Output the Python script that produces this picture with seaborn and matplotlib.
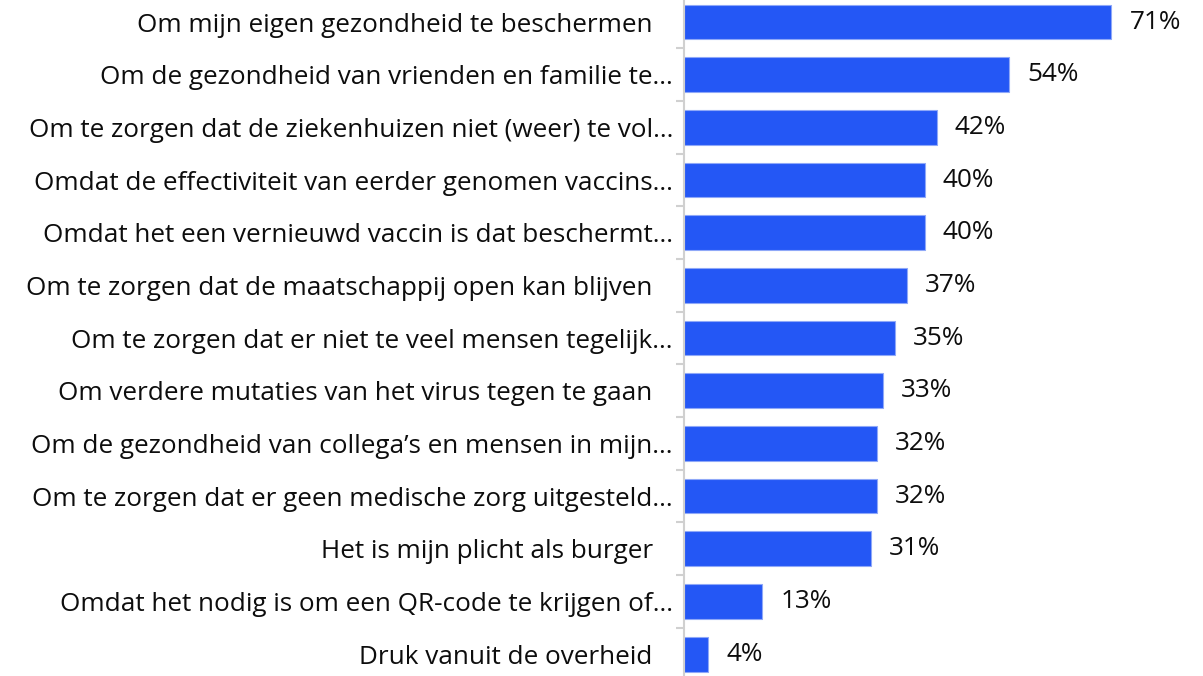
import matplotlib
matplotlib.use("Agg")
import matplotlib.pyplot as plt
import seaborn as sns
import pandas as pd

reasons = [
    "Om mijn eigen gezondheid te beschermen",
    "Om de gezondheid van vrienden en familie te…",
    "Om te zorgen dat de ziekenhuizen niet (weer) te vol…",
    "Omdat de effectiviteit van eerder genomen vaccins…",
    "Omdat het een vernieuwd vaccin is dat beschermt…",
    "Om te zorgen dat de maatschappij open kan blijven",
    "Om te zorgen dat er niet te veel mensen tegelijk…",
    "Om verdere mutaties van het virus tegen te gaan",
    "Om de gezondheid van collega’s en mensen in mijn…",
    "Om te zorgen dat er geen medische zorg uitgesteld…",
    "Het is mijn plicht als burger",
    "Omdat het nodig is om een QR-code te krijgen of…",
    "Druk vanuit de overheid",
]
percentages = [71, 54, 42, 40, 40, 37, 35, 33, 32, 32, 31, 13, 4]

df = pd.DataFrame({"reden": reasons, "pct": percentages})

sns.set_theme(style="white")
plt.rcParams["font.family"] = ["Open Sans", "DejaVu Sans"]
plt.rcParams["font.weight"] = "medium"

fig = plt.figure(figsize=(12.03, 6.76), dpi=100)
ax = fig.add_axes([0.5686, -0.0066, 0.4314, 1.013])

sns.barplot(data=df, x="pct", y="reden", orient="h", color="#2457F5",
            saturation=1, width=0.66, edgecolor="#8FA8F8", linewidth=0.8, ax=ax)

for i, v in enumerate(df["pct"]):
    ax.text(v + 3.0, i, f"{v}%", va="center", ha="left", fontsize=18.8, color="#0d0d0d")

ax.set_xlim(0, 86.2)
ax.set_ylim(len(reasons) - 0.5, -0.5)
ax.set_xlabel("")
ax.set_ylabel("")
ax.set_xticks([])

# full (untruncated) labels keep a little trailing space before the axis line
tick_text = [r if r.endswith("…") else r + "   " for r in reasons]
ax.set_yticks(range(len(reasons)))
ax.set_yticklabels(tick_text)

# category boundaries as minor ticks on the vertical axis line
ax.set_yticks([i + 0.5 for i in range(len(reasons) - 1)], minor=True)
ax.tick_params(axis="y", which="minor", length=6, width=1.5, color="#d0d0d0", left=True)
ax.tick_params(axis="y", which="major", length=0, pad=8, labelsize=18.8, labelcolor="#0d0d0d")

for side in ["top", "right", "bottom"]:
    ax.spines[side].set_visible(False)
ax.spines["left"].set_color("#d0d0d0")
ax.spines["left"].set_linewidth(1.5)

fig.savefig("out.png", dpi=100)
